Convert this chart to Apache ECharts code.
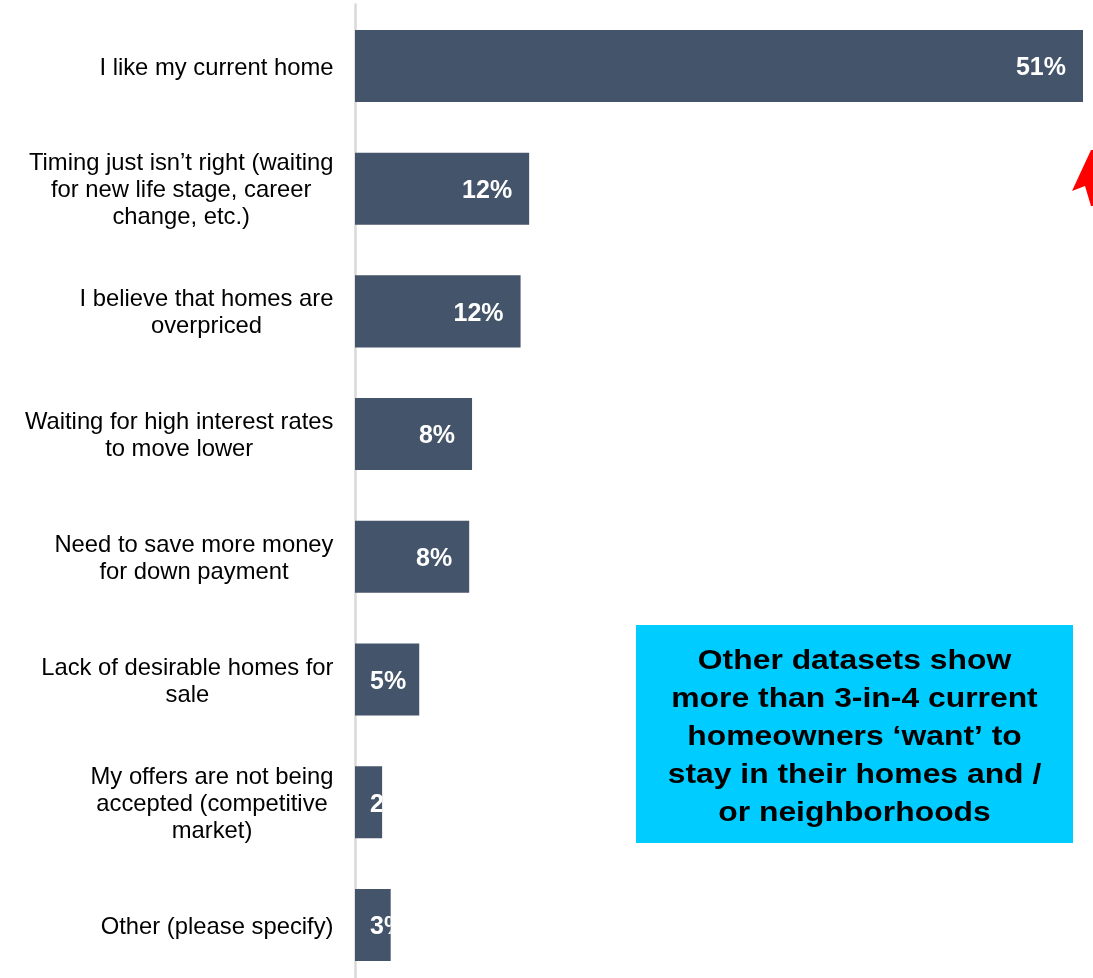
<!DOCTYPE html>
<html>
<head>
<meta charset="utf-8">
<script src="https://cdn.jsdelivr.net/npm/echarts@6/dist/echarts.min.js"></script>
<style>
  html, body { margin: 0; padding: 0; background: #ffffff; }
  #chart { width: 1093px; height: 978px; }
</style>
</head>
<body>
<div id="chart"></div>
<script>
// Reasons for not moving (share of current homeowners, %)
const categories = [
  'I like my current home',
  'Timing just isn\u2019t right (waiting\nfor new life stage, career\nchange, etc.)',
  'I believe that homes are\noverpriced',
  'Waiting for high interest rates\nto move lower',
  'Need to save more money\nfor down payment',
  'Lack of desirable homes for\nsale',
  'My offers are not being\naccepted (competitive\nmarket)',
  'Other (please specify)'
];
const shares = [51, 12.2, 11.6, 8.2, 8.0, 4.5, 1.9, 2.5];
const calloutLines = [
  'Other datasets show',
  'more than 3-in-4 current',
  'homeowners \u2018want\u2019 to',
  'stay in their homes and /',
  'or neighborhoods'
];

const BAR_COLOR = '#44546A';
const LABEL_FONT = 'bold 25px "Liberation Sans", Arial, sans-serif';

// text width helper so a label that does not fit is started at the bar's base
const measureCtx = document.createElement('canvas').getContext('2d');
function textWidth(str) {
  measureCtx.font = LABEL_FONT;
  return measureCtx.measureText(str).width;
}

const chart = echarts.init(document.getElementById('chart'), null, { renderer: 'canvas' });

// bar with its value label; the label is clipped to the bar's own rectangle
function renderBar(params, api) {
  const v = api.value(0);
  const idx = api.value(1);
  const base = api.coord([0, idx]);
  const end = api.coord([v, idx]);
  const band = api.size([0, 1])[1];
  const h = band * 0.587;
  const x = base[0];
  const y = base[1] - h / 2;
  const w = end[0] - base[0];
  const label = Math.round(v) + '%';
  const tw = textWidth(label);
  const fits = w >= tw + 32;
  return {
    type: 'group',
    children: [
      {
        type: 'rect',
        shape: { x: x, y: y, width: w, height: h },
        style: { fill: BAR_COLOR }
      },
      {
        type: 'text',
        clipPath: { type: 'rect', shape: { x: x, y: y, width: w, height: h } },
        style: {
          text: label,
          x: fits ? end[0] - 17 : x + 15,
          y: base[1] + 2.5,
          align: fits ? 'right' : 'left',
          verticalAlign: 'middle',
          fill: '#ffffff',
          font: LABEL_FONT
        }
      }
    ]
  };
}

const option = {
  animation: false,
  backgroundColor: '#ffffff',
  grid: {
    left: 355, top: 4.6, width: 728, height: 981.7,
    containLabel: false,
    outerBoundsMode: 'none'
  },
  xAxis: {
    type: 'value',
    min: 0,
    max: 51,
    show: false
  },
  yAxis: {
    type: 'category',
    data: categories,
    inverse: true,
    offset: 1.5,
    axisLine: { show: true, lineStyle: { color: '#d9d9d9', width: 2.5 } },
    axisTick: { show: false },
    splitLine: { show: false },
    axisLabel: {
      margin: 20,
      align: 'right',
      padding: [4, 0, 0, 0],
      formatter: function (val) {
        return val.split('\n').map(function (s) { return '{c|' + s + '}'; }).join('\n');
      },
      rich: {
        c: {
          align: 'center',
          fontFamily: '"Liberation Sans", Arial, sans-serif',
          fontSize: 23.8,
          lineHeight: 27,
          color: '#000000'
        }
      }
    }
  },
  series: [
    {
      type: 'custom',
      renderItem: renderBar,
      encode: { x: 0, y: 1 },
      data: shares.map(function (v, i) { return [v, i]; }),
      clip: false
    }
  ],
  graphic: [
    {
      type: 'rect',
      shape: { x: 636, y: 625, width: 437, height: 218 },
      style: { fill: '#00CCFF' },
      z: 10
    },
    {
      type: 'text',
      x: 854.5,
      y: 738,
      scaleX: 1.18,
      style: {
        text: calloutLines.join('\n'),
        align: 'center',
        verticalAlign: 'middle',
        font: 'bold 27px "Liberation Sans", Arial, sans-serif',
        lineHeight: 38,
        fill: '#000000'
      },
      z: 11
    },
    {
      type: 'polygon',
      shape: { points: [[1091, 150], [1072, 191], [1085, 186], [1091, 206], [1093, 206], [1093, 150]] },
      style: { fill: '#ff0000' },
      z: 10
    }
  ]
};

chart.setOption(option);
</script>
</body>
</html>
